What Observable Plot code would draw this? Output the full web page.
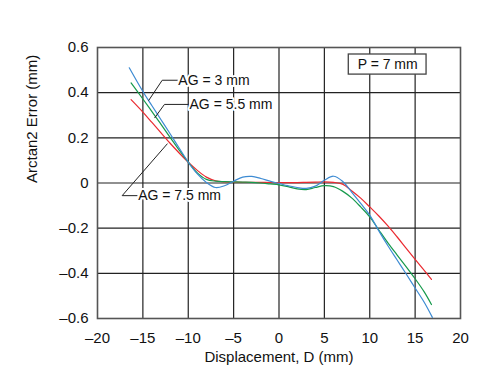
<!DOCTYPE html>
<html><head><meta charset="utf-8">
<script src="https://cdn.jsdelivr.net/npm/d3@7"></script>
<script src="https://cdn.jsdelivr.net/npm/@observablehq/plot@0.6"></script>
<style>body{margin:0;background:#fff}</style>
</head><body><div id="chart"></div>
<script>
// Series: displacement D (mm) and Arctan2 error (mm)
const blueD = [-16.5,-15,-14,-13,-12,-11,-10,-9,-8,-7,-6,-5,-4,-3,-2,-1,0,1,2,3,4,5,6,7,8,9,10,11,12,13,14,15,16,16.9];
const blueV = [0.51,0.405,0.342,0.28,0.218,0.155,0.092,0.04,0.002,-0.02,-0.012,0.008,0.026,0.029,0.02,0.008,-0.002,-0.012,-0.02,-0.024,-0.014,0.012,0.03,0.008,-0.04,-0.09,-0.142,-0.212,-0.278,-0.34,-0.402,-0.465,-0.528,-0.595];
const greenD = [-16.3,-15,-14,-13,-12,-11,-10,-9,-8,-7,-6,-5,-4,-3,-2,-1,0,1,2,3,4,5,6,7,8,9,10,11,12,13,14,15,16,16.8];
const greenV = [0.443,0.372,0.316,0.26,0.202,0.146,0.092,0.045,0.016,0.008,0.006,0.005,0.004,0.003,0.0,-0.004,-0.008,-0.016,-0.026,-0.029,-0.02,-0.012,-0.016,-0.036,-0.066,-0.106,-0.15,-0.208,-0.265,-0.318,-0.37,-0.424,-0.482,-0.538];
const redD = [-16.3,-15,-14,-13,-12,-11,-10,-9,-8,-7,-6,-5,-4,-3,-2,-1,0,1,2,3,4,5,6,7,8,9,10,11,12,13,14,15,16,16.8];
const redV = [0.369,0.314,0.268,0.222,0.176,0.133,0.092,0.056,0.026,0.01,0.005,0.004,0.003,0.003,0.003,0.002,0.002,0.002,0.002,0.003,0.004,0.005,0.003,-0.005,-0.034,-0.067,-0.106,-0.146,-0.19,-0.238,-0.288,-0.338,-0.387,-0.427];

// Axes
const xTicks = [-20,-15,-10,-5,0,5,10,15,20];
const yTicks = [0.6,0.4,0.2,0,-0.2,-0.4,-0.6];
const xGrid = [-15,-10,-5,0,5,10,15];
const yGrid = [0.4,0.2,0,-0.2,-0.4];
const xLabel = "Displacement, D (mm)";
const yLabel = "Arctan2 Error (mm)";

// Annotations (data units)
const annLabels = ["AG = 3 mm", "AG = 5.5 mm", "AG = 7.5 mm"];
const annTextX = [-11.2, -9.97, -15.63];
const annTextY = [0.455, 0.348, -0.056];
const leaderX = [[-11.2,-12.87,-14.35],[-9.97,-12.62,-13.69],[-15.63,-17.28,-12.32]];
const leaderY = [[0.455,0.455,0.366],[0.348,0.348,0.289],[-0.056,-0.056,0.173]];
const boxLabel = "P = 7 mm";
const boxX = [7.69, 16.26];
const boxY = [0.48, 0.569];

const series = (D, V) => D.map((d, i) => ({d, v: V[i]}));
const leaders = leaderX.flatMap((xs, k) => xs.map((x, i) => ({k, x, y: leaderY[k][i]})));
const ann = annLabels.map((t, i) => ({t, x: annTextX[i], y: annTextY[i]}));
const dash = s => String(s).replace("-", "\u2013");
const fmtX = d => dash(d);
const fmtY = d => d === 0 ? "0" : dash(d.toFixed(1));

const lineOpts = {x: "d", y: "v", curve: "catmull-rom", strokeWidth: 1.2};

const chart = Plot.plot({
  width: 498, height: 378,
  marginLeft: 97, marginRight: 38, marginTop: 47, marginBottom: 60,
  style: {fontFamily: '"Liberation Sans", Arial, Helvetica, sans-serif', fontSize: "14px", color: "#111", background: "#fff"},
  x: {domain: [-20, 20]},
  y: {domain: [-0.6, 0.6]},
  marks: [
    Plot.gridX(xGrid, {stroke: "#222", strokeOpacity: 1, strokeWidth: 1.2}),
    Plot.gridY(yGrid, {stroke: "#222", strokeOpacity: 1, strokeWidth: 1.2}),
    Plot.frame({stroke: "#555", strokeWidth: 1.6}),
    Plot.line(series(redD, redV), {...lineOpts, stroke: "#ea2a30"}),
    Plot.line(series(greenD, greenV), {...lineOpts, stroke: "#169a4c"}),
    Plot.line(series(blueD, blueV), {...lineOpts, stroke: "#3d8bd3"}),
    Plot.line(leaders, {x: "x", y: "y", z: "k", stroke: "#222", strokeWidth: 1}),
    Plot.text(ann, {x: "x", y: "y", text: "t", textAnchor: "start", dx: 1, fontSize: 14, fill: "#111", stroke: "white", strokeWidth: 4}),
    Plot.rect([0], {x1: () => boxX[0], x2: () => boxX[1], y1: () => boxY[0], y2: () => boxY[1], fill: "white", stroke: "#444", strokeWidth: 1.3}),
    Plot.text([boxLabel], {x: () => (boxX[0] + boxX[1]) / 2, y: () => (boxY[0] + boxY[1]) / 2, text: d => d, fontSize: 14, fill: "#111"}),
    Plot.axisX(xTicks, {tickSize: 0, tickPadding: 14, tickFormat: fmtX, fontSize: 15, label: null}),
    Plot.axisY(yTicks, {tickSize: 0, tickPadding: 9, tickFormat: fmtY, fontSize: 15, label: null}),
    Plot.text([xLabel], {frameAnchor: "bottom", dy: 43, text: d => d, fontSize: 15, fill: "#111"}),
    Plot.text([yLabel], {frameAnchor: "left", dx: -65, rotate: -90, text: d => d, fontSize: 15, fill: "#111"})
  ]
});
document.getElementById("chart").append(chart);
</script>
</body></html>
